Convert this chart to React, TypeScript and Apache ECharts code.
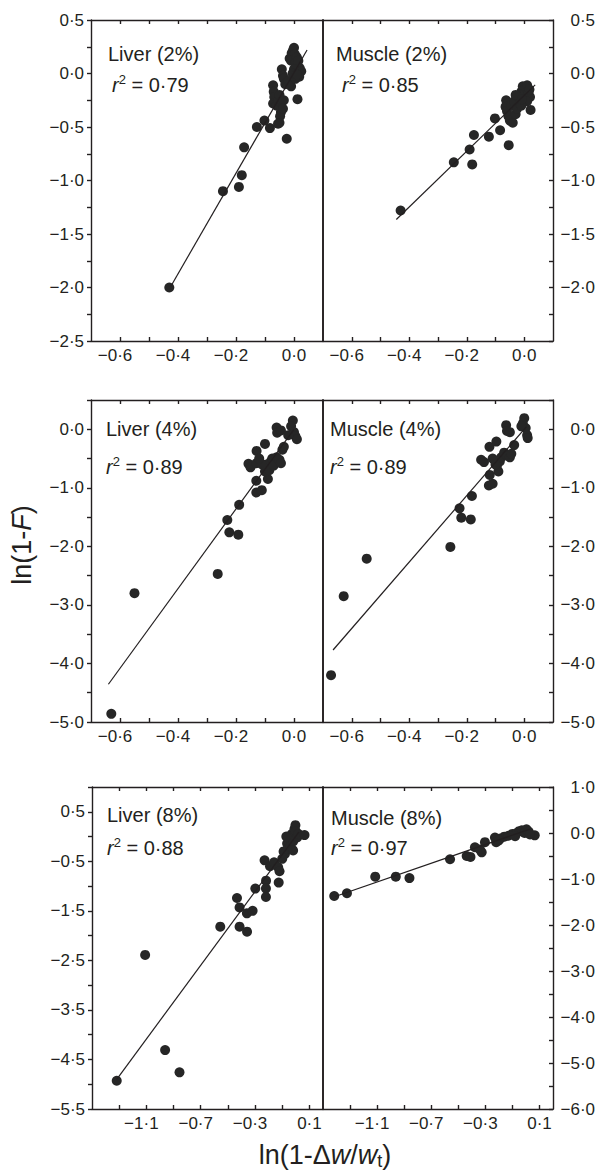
import React, { useEffect, useRef } from 'react';
import * as echarts from 'echarts';

// ---------- data (x = ln(1-Δw/wt), y = ln(1-F)) ----------
const liver2: number[][] = [
  [-0.43, -2.0], [-0.245, -1.1], [-0.19, -1.06], [-0.18, -0.95], [-0.172, -0.69],
  [-0.128, -0.5], [-0.102, -0.44], [-0.083, -0.51], [-0.025, -0.61], [0.012, -0.24],
  [-0.072, -0.11], [-0.07, -0.17], [-0.068, -0.22], [-0.072, -0.28], [-0.06, -0.3],
  [-0.055, -0.25], [-0.05, -0.2], [-0.045, -0.27], [-0.04, -0.26], [-0.035, -0.25],
  [-0.045, -0.36], [-0.048, -0.4], [-0.05, -0.46], [-0.055, -0.47], [-0.038, -0.33],
  [-0.042, 0.04], [-0.038, -0.02], [-0.035, -0.05], [-0.03, -0.1], [-0.02, -0.07],
  [-0.01, -0.12], [-0.015, 0.14], [-0.008, 0.19], [-0.003, 0.22], [0.0, 0.24],
  [0.003, 0.18], [-0.01, 0.12], [0.005, 0.1], [0.01, 0.15], [0.015, 0.12],
  [0.02, 0.05], [0.025, 0.02], [0.018, -0.03], [0.005, -0.05], [0.0, 0.04],
  [-0.005, 0.0], [0.01, -0.01],
];
const liver2Fit: number[][] = [[-0.425, -1.99], [0.045, 0.22]];

const muscle2: number[][] = [
  [-0.43, -1.28], [-0.245, -0.83], [-0.19, -0.71], [-0.181, -0.85], [-0.175, -0.575],
  [-0.123, -0.59], [-0.102, -0.42], [-0.084, -0.53], [-0.054, -0.67], [-0.063, -0.25],
  [-0.065, -0.31], [-0.06, -0.35], [-0.055, -0.4], [-0.05, -0.44], [-0.04, -0.46],
  [-0.045, -0.3], [-0.035, -0.26], [-0.03, -0.38], [-0.025, -0.33], [-0.02, -0.22],
  [-0.015, -0.28], [-0.01, -0.17], [-0.005, -0.12], [0.0, -0.2], [0.005, -0.13],
  [0.01, -0.11], [0.015, -0.18], [0.02, -0.22], [0.022, -0.34], [0.01, -0.26],
  [-0.01, -0.3], [-0.03, -0.2], [0.018, -0.15], [-0.008, -0.24],
];
const muscle2Fit: number[][] = [[-0.445, -1.365], [0.038, -0.106]];

const liver4: number[][] = [
  [-0.63, -4.86], [-0.55, -2.8], [-0.263, -2.47], [-0.23, -1.55], [-0.223, -1.76],
  [-0.192, -1.8], [-0.189, -1.29], [-0.13, -0.88], [-0.13, -1.08], [-0.111, -1.04],
  [-0.157, -0.59], [-0.15, -0.65], [-0.129, -0.37], [-0.1, -0.25], [-0.09, -0.85],
  [-0.1, -0.72], [-0.095, -0.6], [-0.13, -0.58], [-0.085, -0.7], [-0.08, -0.55],
  [-0.075, -0.5], [-0.07, -0.62], [-0.06, -0.48], [-0.05, -0.52], [-0.045, -0.58],
  [-0.04, -0.35], [-0.035, -0.3], [-0.06, 0.03], [-0.058, -0.06], [-0.045, -0.02],
  [-0.004, 0.15], [-0.01, 0.05], [0.0, -0.05], [0.005, -0.12], [0.01, -0.17],
  [-0.02, -0.1], [-0.11, -0.6], [-0.12, -0.5],
];
const liver4Fit: number[][] = [[-0.64, -4.355], [0.0, 0.0]];

const muscle4: number[][] = [
  [-0.672, -4.2], [-0.628, -2.85], [-0.548, -2.21], [-0.257, -2.01], [-0.225, -1.35],
  [-0.219, -1.51], [-0.186, -1.54], [-0.182, -1.14], [-0.15, -0.52], [-0.14, -0.56],
  [-0.121, -0.3], [-0.123, -0.96], [-0.11, -0.93], [-0.12, -0.78], [-0.097, -0.21],
  [-0.09, -0.72], [-0.095, -0.62], [-0.085, -0.55], [-0.08, -0.48], [-0.07, -0.4],
  [-0.06, -0.45], [-0.05, -0.48], [-0.045, -0.42], [-0.035, -0.27], [-0.063, 0.07],
  [-0.06, -0.03], [-0.05, -0.05], [0.0, 0.19], [-0.005, 0.1], [0.005, 0.02],
  [0.01, -0.1], [0.012, -0.15], [-0.01, 0.05], [-0.1, -0.6], [-0.11, -0.5],
];
const muscle4Fit: number[][] = [[-0.665, -3.77], [0.007, 0.04]];

const liver8: number[][] = [
  [-1.318, -4.93], [-1.109, -2.39], [-0.962, -4.31], [-0.856, -4.76], [-0.556, -1.82],
  [-0.433, -1.24], [-0.414, -1.43], [-0.414, -1.82], [-0.359, -1.92], [-0.36, -1.55],
  [-0.318, -1.5], [-0.298, -1.05], [-0.219, -0.89], [-0.22, -1.05], [-0.22, -1.22],
  [-0.23, -0.48], [-0.19, -0.6], [-0.16, -0.52], [-0.13, -0.62], [-0.126, -0.93],
  [-0.12, -0.7], [-0.1, -0.45], [-0.09, -0.3], [-0.08, -0.35], [-0.064, -0.14],
  [-0.06, -0.25], [-0.05, -0.05], [-0.04, -0.2], [-0.03, 0.05], [-0.02, -0.1],
  [-0.01, 0.15], [-0.003, 0.23], [0.0, 0.1], [0.01, -0.02], [0.02, 0.05],
  [0.064, 0.03], [-0.07, 0.0], [-0.02, -0.28],
];
const liver8Fit: number[][] = [[-1.318, -4.9], [0.022, 0.09]];

const muscle8: number[][] = [
  [-1.417, -1.37], [-1.323, -1.31], [-1.114, -0.95], [-0.962, -0.95], [-0.861, -0.98],
  [-0.561, -0.57], [-0.438, -0.5], [-0.41, -0.52], [-0.377, -0.31], [-0.327, -0.42],
  [-0.303, -0.2], [-0.34, -0.36], [-0.229, -0.1], [-0.22, -0.2], [-0.19, -0.12],
  [-0.16, -0.08], [-0.13, -0.06], [-0.1, -0.02], [-0.069, 0.0], [-0.05, 0.04],
  [-0.03, 0.06], [0.004, 0.08], [-0.01, 0.0], [0.02, 0.03], [0.065, -0.05],
  [0.03, -0.03], [-0.08, -0.07], [-0.2, -0.16],
];
const muscle8Fit: number[][] = [[-1.41, -1.38], [0.03, 0.085]];

// ---------- ticks / labels ----------
const row1XTicks = [-0.6, -0.5, -0.4, -0.3, -0.2, -0.1, 0.0];
const row1XLabels = [-0.6, -0.4, -0.2, 0.0];
const row1YTicks = [-2.5, -2.25, -2.0, -1.75, -1.5, -1.25, -1.0, -0.75, -0.5, -0.25, 0.0, 0.25, 0.5];
const row1YLabelsLeft = [-2.5, -2.0, -1.5, -1.0, -0.5, 0.0, 0.5];
const row1YLabelsRight = [-2.0, -1.5, -1.0, -0.5, 0.0, 0.5];

const row2XTicks = [-0.6, -0.5, -0.4, -0.3, -0.2, -0.1, 0.0];
const row2XLabels = [-0.6, -0.4, -0.2, 0.0];
const row2YTicks = [-5.0, -4.5, -4.0, -3.5, -3.0, -2.5, -2.0, -1.5, -1.0, -0.5, 0.0, 0.5];
const row2YLabels = [-5.0, -4.0, -3.0, -2.0, -1.0, 0.0];

const row3XTicks = [-1.3, -1.1, -0.9, -0.7, -0.5, -0.3, -0.1, 0.1];
const row3XLabels = [-1.1, -0.7, -0.3, 0.1];
const row3YTicksLeft = [-5.5, -5.0, -4.5, -4.0, -3.5, -3.0, -2.5, -2.0, -1.5, -1.0, -0.5, 0.0, 0.5, 1.0];
const row3YLabelsLeft = [-5.5, -4.5, -3.5, -2.5, -1.5, -0.5, 0.5];
const row3YTicksRight = [-6.0, -5.5, -5.0, -4.5, -4.0, -3.5, -3.0, -2.5, -2.0, -1.5, -1.0, -0.5, 0.0, 0.5, 1.0];
const row3YLabelsRight = [-6.0, -5.0, -4.0, -3.0, -2.0, -1.0, 0.0, 1.0];

const panelTitles = ['Liver (2%)', 'Muscle (2%)', 'Liver (4%)', 'Muscle (4%)', 'Liver (8%)', 'Muscle (8%)'];
const panelR2 = ['0·79', '0·85', '0·89', '0·89', '0·88', '0·97'];

const FONT = '"Liberation Sans", Arial, Helvetica, sans-serif';
const INK = '#231f20';

function fmt(v: number): string {
  const r = Math.round(v * 100) / 100;
  const s = Math.abs(r).toFixed(1).replace('.', '·');
  return r < -1e-9 ? '\u2212' + s : s;
}

interface Panel {
  data: number[][];
  fit: number[][];
  left: number; top: number; width: number; height: number;
  xMin: number; xMax: number; yMin: number; yMax: number;
  xTicks: number[]; xLabels: number[];
  yTicks: number[]; yLabels: number[];
  side: 'left' | 'right';
  titlePos: number[]; r2Pos: number[];
}

const panels: Panel[] = [
  { data: liver2, fit: liver2Fit, left: 91, top: 20, width: 232, height: 321, xMin: -0.7, xMax: 0.1, yMin: -2.5, yMax: 0.5,
    xTicks: row1XTicks, xLabels: row1XLabels, yTicks: row1YTicks, yLabels: row1YLabelsLeft, side: 'left', titlePos: [108, 44], r2Pos: [112, 73] },
  { data: muscle2, fit: muscle2Fit, left: 323, top: 20, width: 230, height: 321, xMin: -0.7, xMax: 0.1, yMin: -2.5, yMax: 0.5,
    xTicks: row1XTicks, xLabels: row1XLabels, yTicks: row1YTicks, yLabels: row1YLabelsRight, side: 'right', titlePos: [336, 44], r2Pos: [342, 73] },
  { data: liver4, fit: liver4Fit, left: 91, top: 400, width: 232, height: 322, xMin: -0.7, xMax: 0.1, yMin: -5.0, yMax: 0.5,
    xTicks: row2XTicks, xLabels: row2XLabels, yTicks: row2YTicks, yLabels: row2YLabels, side: 'left', titlePos: [106, 419], r2Pos: [106, 455] },
  { data: muscle4, fit: muscle4Fit, left: 323, top: 400, width: 230, height: 322, xMin: -0.7, xMax: 0.1, yMin: -5.0, yMax: 0.5,
    xTicks: row2XTicks, xLabels: row2XLabels, yTicks: row2YTicks, yLabels: row2YLabels, side: 'right', titlePos: [330, 419], r2Pos: [330, 455] },
  { data: liver8, fit: liver8Fit, left: 92, top: 787, width: 231, height: 322, xMin: -1.5, xMax: 0.2, yMin: -5.5, yMax: 1.0,
    xTicks: row3XTicks, xLabels: row3XLabels, yTicks: row3YTicksLeft, yLabels: row3YLabelsLeft, side: 'left', titlePos: [107, 805], r2Pos: [107, 836] },
  { data: muscle8, fit: muscle8Fit, left: 323, top: 787, width: 230, height: 322, xMin: -1.5, xMax: 0.2, yMin: -6.0, yMax: 1.0,
    xTicks: row3XTicks, xLabels: row3XLabels, yTicks: row3YTicksRight, yLabels: row3YLabelsRight, side: 'right', titlePos: [331, 808], r2Pos: [331, 836] },
];

const axisLineStyle = { color: INK, width: 1.4 };

function buildOption(): any {
  const grid: any[] = [];
  const xAxis: any[] = [];
  const yAxis: any[] = [];
  const series: any[] = [];
  const graphic: any[] = [];

  panels.forEach((p, i) => {
    grid.push({ left: p.left, top: p.top, width: p.width, height: p.height, containLabel: false });
    // bottom x axis
    xAxis.push({
      type: 'value', gridIndex: i, position: 'bottom', min: p.xMin, max: p.xMax,
      axisLine: { show: true, onZero: false, lineStyle: axisLineStyle },
      axisTick: { show: true, inside: true, length: 4, lineStyle: axisLineStyle, customValues: p.xTicks },
      axisLabel: {
        show: true, customValues: p.xLabels, margin: 6, color: INK, fontFamily: FONT, fontSize: 17,
        formatter: (v: number) => (v < -1e-9 ? `{neg|${fmt(v)}}` : `{pos|${fmt(v)}}`),
        rich: {
          neg: { fontFamily: FONT, fontSize: 17, color: INK, padding: [0, 10, 0, 0] },
          pos: { fontFamily: FONT, fontSize: 17, color: INK },
        },
      },
      splitLine: { show: false },
    });
    // top x axis (ticks only)
    xAxis.push({
      type: 'value', gridIndex: i, position: 'top', min: p.xMin, max: p.xMax,
      axisLine: { show: true, onZero: false, lineStyle: axisLineStyle },
      axisTick: { show: true, inside: true, length: 4, lineStyle: axisLineStyle, customValues: p.xTicks },
      axisLabel: { show: false },
      splitLine: { show: false },
    });
    // outer y axis
    yAxis.push({
      type: 'value', gridIndex: i, position: p.side, min: p.yMin, max: p.yMax,
      axisLine: { show: true, onZero: false, lineStyle: axisLineStyle },
      axisTick: { show: true, inside: p.side === 'right', length: 4, lineStyle: axisLineStyle, customValues: p.yTicks },
      axisLabel: {
        show: true, customValues: p.yLabels, color: INK, fontFamily: FONT, fontSize: 17,
        formatter: (v: number) => fmt(v),
        align: 'right', margin: p.side === 'right' ? 42 : 7,
      },
      splitLine: { show: false },
    });
    // inner y axis (divider line)
    yAxis.push({
      type: 'value', gridIndex: i, position: p.side === 'left' ? 'right' : 'left', min: p.yMin, max: p.yMax,
      axisLine: { show: true, onZero: false, lineStyle: { color: INK, width: 1.6 } },
      axisTick: { show: false },
      axisLabel: { show: false },
      splitLine: { show: false },
    });

    series.push({
      type: 'line', xAxisIndex: 2 * i, yAxisIndex: 2 * i, data: p.fit, symbol: 'none',
      lineStyle: { color: INK, width: 1.2 }, silent: true, z: 3,
    });
    series.push({
      type: 'scatter', xAxisIndex: 2 * i, yAxisIndex: 2 * i, data: p.data, symbol: 'circle', symbolSize: 10,
      itemStyle: { color: '#262626', opacity: 1 }, z: 2,
    });

    graphic.push({
      type: 'text', x: p.titlePos[0], y: p.titlePos[1],
      style: { text: panelTitles[i], fontFamily: FONT, fontSize: 20, fill: INK, align: 'left', verticalAlign: 'top' },
    });
    graphic.push({
      type: 'text', x: p.r2Pos[0], y: p.r2Pos[1],
      style: {
        text: `{i|r}{s|2}{n| = ${panelR2[i]}}`,
        align: 'left', verticalAlign: 'top', fill: INK,
        rich: {
          i: { fontFamily: FONT, fontSize: 20, fontStyle: 'italic', fill: INK, lineHeight: 22, verticalAlign: 'bottom' },
          s: { fontFamily: FONT, fontSize: 13, fill: INK, lineHeight: 22, verticalAlign: 'top' },
          n: { fontFamily: FONT, fontSize: 20, fill: INK, lineHeight: 22, verticalAlign: 'bottom' },
        },
      },
    });
  });

  // axis titles
  graphic.push({
    type: 'text', x: 22, y: 545, rotation: Math.PI / 2,
    style: {
      text: '{n|ln(1-}{i|F}{n|)}', align: 'center', verticalAlign: 'middle', fill: INK,
      rich: {
        n: { fontFamily: FONT, fontSize: 27, fill: INK },
        i: { fontFamily: FONT, fontSize: 27, fontStyle: 'italic', fill: INK },
      },
    },
  });
  graphic.push({
    type: 'text', x: 325, y: 1155,
    style: {
      text: '{n|ln(1-Δ}{i|w}{n|/}{i|w}{t|t}{n|)}', align: 'center', verticalAlign: 'middle', fill: INK,
      rich: {
        n: { fontFamily: FONT, fontSize: 27, fill: INK, lineHeight: 30, verticalAlign: 'middle' },
        i: { fontFamily: FONT, fontSize: 27, fontStyle: 'italic', fill: INK, lineHeight: 30, verticalAlign: 'middle' },
        t: { fontFamily: FONT, fontSize: 18, fill: INK, lineHeight: 30, verticalAlign: 'bottom' },
      },
    },
  });

  return { animation: false, backgroundColor: '#ffffff', grid, xAxis, yAxis, series, graphic };
}

export default function App() {
  const ref = useRef<HTMLDivElement>(null);
  useEffect(() => {
    if (!ref.current) return;
    const chart = echarts.init(ref.current, null, { renderer: 'svg' });
    chart.setOption(buildOption());
    return () => chart.dispose();
  }, []);
  return (
    <div
      ref={ref}
      style={{ position: 'fixed', left: 0, top: 0, width: 601, height: 1171, background: '#ffffff' }}
    />
  );
}
